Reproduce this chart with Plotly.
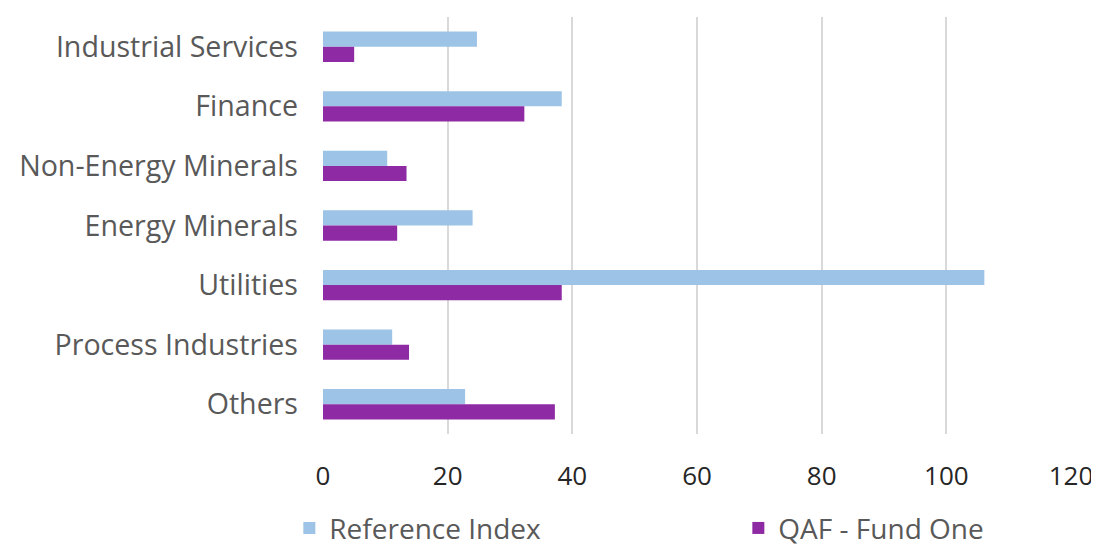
import plotly.graph_objects as go

categories = ["Industrial Services", "Finance", "Non-Energy Minerals", "Energy Minerals",
              "Utilities", "Process Industries", "Others"]
reference_index = [24.7, 38.3, 10.3, 24.0, 106.1, 11.1, 22.8]
qaf_fund_one = [5.0, 32.3, 13.4, 11.9, 38.3, 13.8, 37.2]
x_ticks = [0, 20, 40, 60, 80, 100, 120]

FONT = "Open Sans"

fig = go.Figure()
fig.add_trace(go.Bar(y=categories, x=reference_index, orientation="h", name="Reference Index",
                     marker=dict(color="#9DC3E6", line=dict(width=0))))
fig.add_trace(go.Bar(y=categories, x=qaf_fund_one, orientation="h", name="QAF - Fund One",
                     marker=dict(color="#8E2AA3", line=dict(width=0))))

fig.update_layout(
    width=1091, height=540,
    margin=dict(l=315, r=28, t=9, b=114, autoexpand=False),
    paper_bgcolor="white", plot_bgcolor="white",
    barmode="group", bargap=0.49, bargroupgap=0,
    font=dict(family=FONT),
    xaxis=dict(range=[0, 120], tickvals=x_ticks, showgrid=True, gridcolor="#D9D9D9", gridwidth=2,
               zeroline=False, showline=False, ticks="", automargin=False,
               tickfont=dict(size=26, color="#262626"), ticklabelstandoff=24),
    yaxis=dict(autorange="reversed", showgrid=False, zeroline=False, showline=False,
               ticks="", automargin=False, ticklabelstandoff=24,
               tickfont=dict(size=28.6, color="#595959")),
    legend=dict(orientation="h", x=-0.045, xanchor="left", y=-0.226, yanchor="middle",
                font=dict(size=28, color="#595959"), itemwidth=30, traceorder="normal",
                entrywidth=404, entrywidthmode="pixels"),
    showlegend=True,
)

fig.write_html("out.html")
